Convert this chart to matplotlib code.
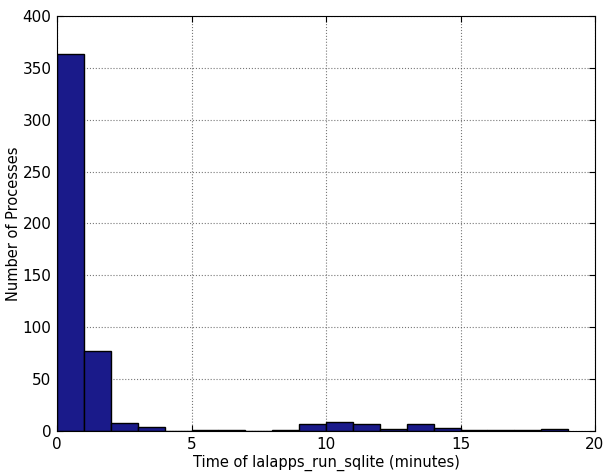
import matplotlib
matplotlib.use("Agg")
import matplotlib.pyplot as plt

# histogram of run times (minutes), bins of width 1
bin_starts = list(range(19))
counts = [363, 77, 8, 4, 0, 1, 1, 0, 1, 7, 9, 7, 2, 7, 3, 1, 1, 1, 2]

x_label = "Time of lalapps_run_sqlite (minutes)"
y_label = "Number of Processes"

fig = plt.figure(figsize=(6.05, 4.72), dpi=100)
ax = fig.add_axes([57 / 605, 41 / 472, 538 / 605, 415 / 472])

ax.bar(bin_starts, counts, width=1, align="edge", color="#1a1a8a",
       edgecolor="black", linewidth=1.0, zorder=2)

ax.set_xlim(0, 20)
ax.set_ylim(0, 400)
ax.set_xticks([0, 5, 10, 15, 20])
ax.set_yticks(range(0, 401, 50))
ax.grid(True, color="#555555", linestyle=":", linewidth=0.8, alpha=0.8, zorder=0)
ax.set_axisbelow(True)
ax.tick_params(direction="in", length=4, labelsize=11, top=True, right=True, pad=4)
ax.set_xlabel(x_label, fontsize=10.5, labelpad=2)
ax.set_ylabel(y_label, fontsize=10.5, labelpad=1)

fig.savefig("out.png", dpi=100)
